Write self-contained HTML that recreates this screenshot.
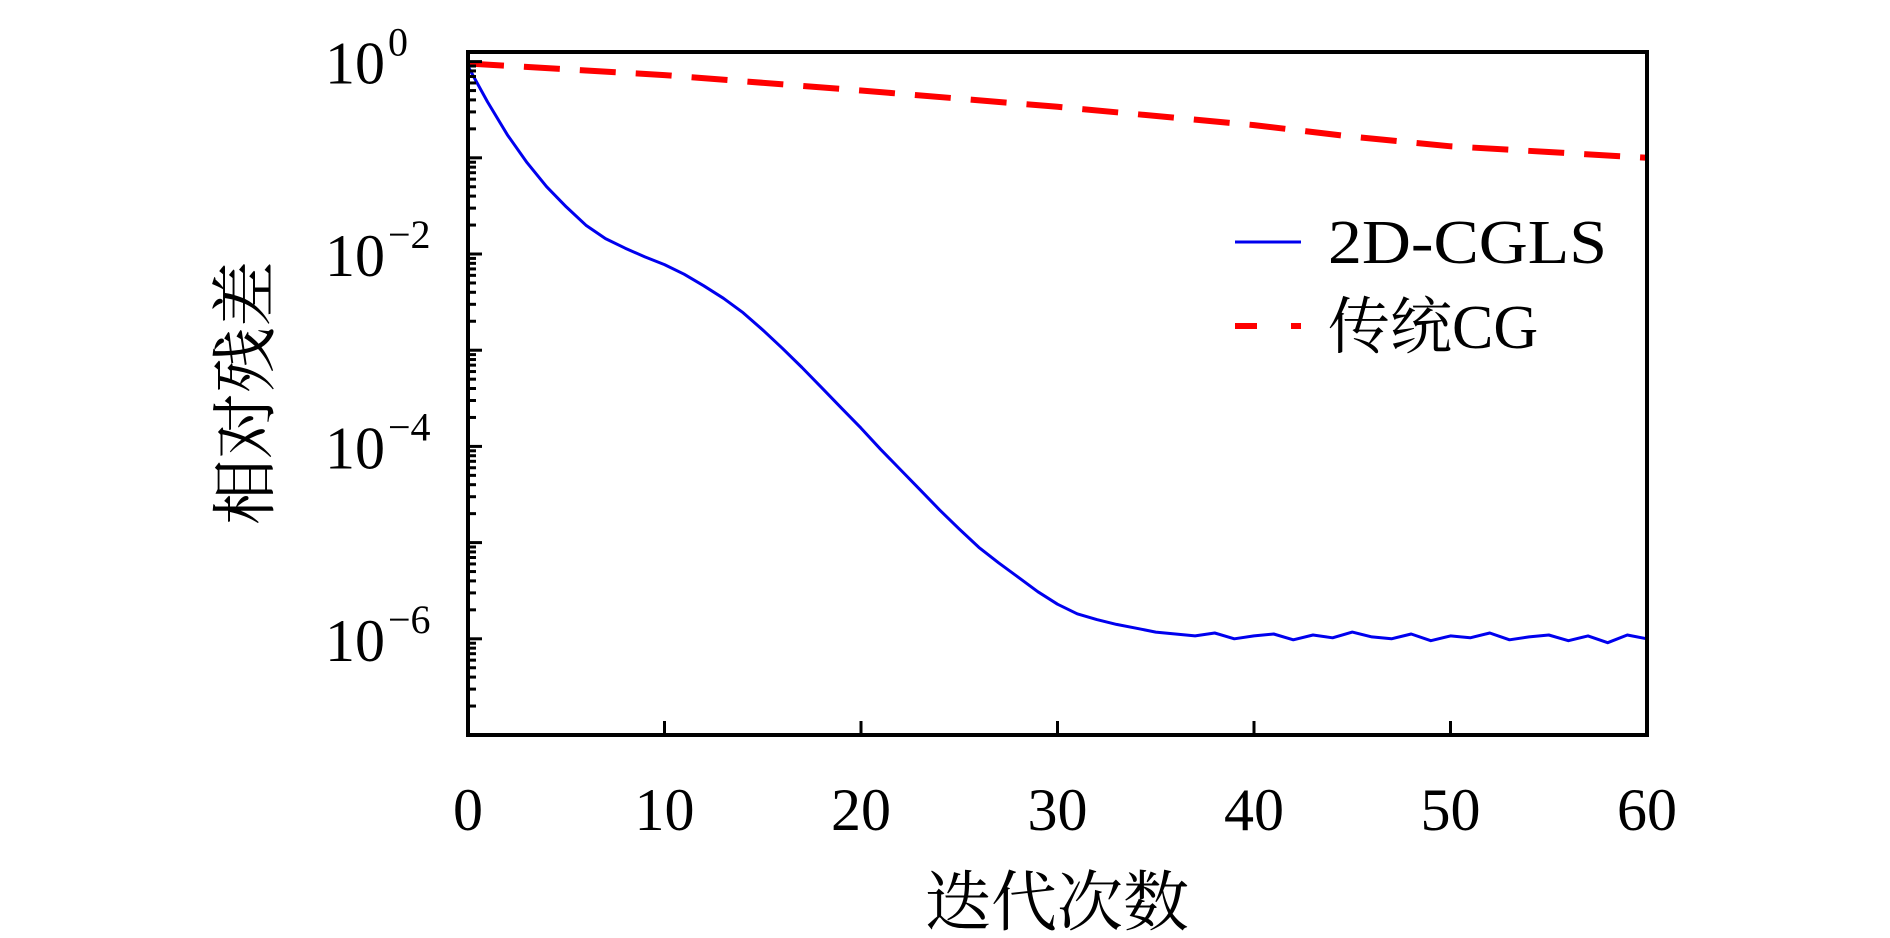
<!DOCTYPE html>
<html><head><meta charset="utf-8"><style>
html,body{margin:0;padding:0;background:#fff;}
svg{display:block;}
text{font-family:"Liberation Serif","Noto Serif CJK SC",serif;fill:#000;}
</style></head><body>
<svg id="chart" width="1890" height="938" viewBox="0 0 1890 938" xmlns="http://www.w3.org/2000/svg">
<g id="grid"></g>
<g id="series"></g>
<rect x="468" y="52" width="1179" height="683" fill="none" stroke="#000" stroke-width="4"/>
<g id="axes"></g>
<text x="1057" y="925" font-size="66" text-anchor="middle" font-family="Noto Serif CJK SC, serif">迭代次数</text>
<text transform="translate(268,393) rotate(-90)" font-size="66" text-anchor="middle" font-family="Noto Serif CJK SC, serif">相对残差</text>
<g>
<line x1="1235" y1="242" x2="1301" y2="242" stroke="#0000ee" stroke-width="3"/>
<text x="1328" y="263" font-size="62" textLength="279" lengthAdjust="spacingAndGlyphs">2D-CGLS</text>
<line x1="1235" y1="326" x2="1301" y2="326" stroke="#ff0000" stroke-width="6" stroke-dasharray="22,34"/>
<text x="1328" y="348" font-size="62"><tspan font-family="Noto Serif CJK SC, serif">传统</tspan>CG</text>
</g>
</svg>
<script>
const xTicks=[0,10,20,30,40,50,60];
const yDecades=[0,-2,-4,-6];
const iterBlue=[0,1,2,3,4,5,6,7,8,9,10,11,12,13,14,15,16,17,18,19,20,21,22,23,24,25,26,27,28,29,30,31,32,33,34,35,36,37,38,39,40,41,42,43,44,45,46,47,48,49,50,51,52,53,54,55,56,57,58,59,60];
const logBlue=[-0.05,-0.42,-0.76,-1.05,-1.3,-1.51,-1.7,-1.84,-1.94,-2.03,-2.11,-2.21,-2.33,-2.46,-2.61,-2.79,-2.98,-3.18,-3.39,-3.6,-3.81,-4.03,-4.24,-4.45,-4.66,-4.86,-5.05,-5.21,-5.36,-5.51,-5.64,-5.74,-5.8,-5.85,-5.89,-5.93,-5.95,-5.97,-5.94,-6.0,-5.97,-5.95,-6.01,-5.96,-5.99,-5.93,-5.98,-6.0,-5.95,-6.02,-5.97,-5.99,-5.94,-6.01,-5.98,-5.96,-6.02,-5.97,-6.04,-5.96,-6.0];
const iterRed=[0,10,20,30,40,45,50,55,60];
const logRed=[-0.02,-0.14,-0.3,-0.47,-0.66,-0.78,-0.88,-0.94,-1.0];
const X0=468,X1=1647,Y0=735,Y1=52,LMIN=-7,LMAX=0.1;
const xs=v=>X0+(v-0)/(60-0)*(X1-X0);
const ys=l=>Y0-(l-LMIN)/(LMAX-LMIN)*(Y0-Y1);
const NS="http://www.w3.org/2000/svg";
function mk(t,a,parent){const e=document.createElementNS(NS,t);for(const k in a)e.setAttribute(k,a[k]);document.getElementById(parent).appendChild(e);return e;}
// x ticks
xTicks.forEach(t=>{
 if(t>0&&t<60){const l=mk('line',{x1:xs(t),x2:xs(t),y1:Y0,y2:Y0-14,stroke:'#000','stroke-width':3},'axes');
 
 }
 const tx=mk('text',{x:xs(t),y:830,'font-size':60,'text-anchor':'middle'},'axes');
 tx.textContent=t;
 
 
});
// y ticks
for(let d=-7;d<=0;d++){
 for(let m=1;m<=9;m++){
  const l=Math.log10(m)+d; if(l>LMAX) continue;
  const len=(m===1)?14:8;
  const tk=mk('line',{x1:X0,x2:X0+len,y1:ys(l),y2:ys(l),stroke:'#000','stroke-width':3},'axes');
  
  
 }
}
yDecades.forEach(d=>{
 const tx=mk('text',{x:385,y:ys(d)+22,'font-size':60,'text-anchor':'end'},'axes');
 tx.textContent='10';
 
 
 const sp=mk('text',{x:388,y:ys(d)-6,'font-size':40,'text-anchor':'start'},'axes');
 sp.textContent=d===0?'0':'\u2212'+(-d);
 
 
});
// series
const pb=mk('path',{d:iterBlue.map((v,i)=>(i?'L':'M')+xs(v).toFixed(1)+','+ys(logBlue[i]).toFixed(1)).join(''),fill:'none',stroke:'#0000ee','stroke-width':3,'stroke-linejoin':'round'},'series');


const pr=mk('path',{d:iterRed.map((v,i)=>(i?'L':'M')+xs(v).toFixed(1)+','+ys(logRed[i]).toFixed(1)).join(''),fill:'none',stroke:'#ff0000','stroke-width':6,'stroke-dasharray':'36,20'},'series');


</script>
</body></html>
